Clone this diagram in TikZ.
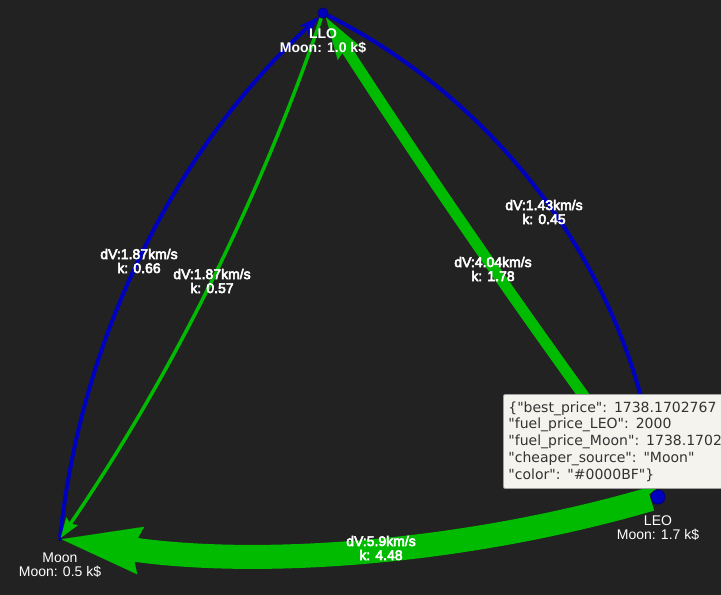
\documentclass[tikz,border=0pt]{standalone}
\usepackage{fontspec}
\setmainfont{Liberation Sans}
\newfontfamily\tipfont{DejaVu Sans}
\usetikzlibrary{arrows.meta}
\definecolor{bg}{HTML}{222222}
\definecolor{gr}{HTML}{00BB00}
\definecolor{bl}{HTML}{0000BF}
\definecolor{tipfill}{HTML}{F4F3EE}
\definecolor{tipline}{HTML}{A0A0A0}
\definecolor{tiptext}{HTML}{333333}
\pgfdeclarelayer{bglayer}
\pgfdeclarelayer{edges}
\pgfdeclarelayer{top}
\pgfsetlayers{bglayer,edges,main,top}
\tikzset{
  dot/.style={circle, fill=bl, draw=bl!70!black, line width=1pt, inner sep=0pt},
  nodelab/.style={text=white, align=center, font=\fontsize{14}{14}\selectfont},
  edgelab/.style={text=white, align=center, font=\fontsize{14}{14}\selectfont,
    execute at begin node={\special{pdf:literal direct 2 Tr 0.55 w 0.2 0.2 0.2 RG}},
    execute at end node={\special{pdf:literal direct 0 Tr}}},
  blueedge/.style={draw=bl, line width=4pt},
  greenedge/.style={draw=gr},
  tipbox/.style={fill=tipfill, draw=tipline, line width=0.8pt, rounded corners=2pt,
    text=tiptext, align=left, inner xsep=5pt, inner ysep=7pt, text width=225pt,
    font=\tipfont\fontsize{14}{16.8}\selectfont}
}
\begin{document}
\begin{tikzpicture}[x=1pt,y=-1pt]
\begin{pgfonlayer}{bglayer}
\fill[bg] (0,0) rectangle (721,595);
\end{pgfonlayer}
\useasboundingbox (0,0) rectangle (721,595);

% nodes
\node[dot, minimum size=10pt] (LLO) at (323,13) {};
\node[dot, minimum size=14pt] (LEO) at (658,497) {};
\node[dot, minimum size=3pt, line width=0pt] (Moon) at (60,539) {};

\node[nodelab, font=\bfseries\fontsize{14}{14}\selectfont] (LLOlab) at (323,41) {LLO\\Moon: 1.0 k\$};
\node[nodelab] (LEOlab) at (658,528) {LEO\\Moon: 1.7 k\$};
\node[nodelab] (Moonlab) at (60,565) {Moon\\Moon: 0.5 k\$};

% control points of the arcs
\coordinate (mlA) at (80.8,337.5);  \coordinate (mlB) at (174.1,150.4);
\coordinate (leA) at (509.6,106.9); \coordinate (leB) at (635.8,289.3);
\coordinate (gmA) at (259.6,199.4); \coordinate (gmB) at (171.1,376.4);
\coordinate (glA) at (541,339.5);   \coordinate (glB) at (429.1,178);
\coordinate (gbA) at (463.9,553.4); \coordinate (gbB) at (260.1,567.7);

% edges
\begin{pgfonlayer}{edges}
\draw[blueedge, -{Stealth[length=21pt,width=13pt,line width=0.01pt]}] (Moon) .. controls (mlA) and (mlB) .. (LLO);
\draw[blueedge, -{Stealth[length=21pt,width=13pt,line width=0.01pt]}] (LLO) .. controls (leA) and (leB) .. (LEO);
\draw[greenedge, line width=3.5pt, -{Stealth[length=20pt,width=14pt,inset=3pt,line width=0.01pt]}] (LLO) .. controls (gmA) and (gmB) .. (Moon);
\draw[greenedge, line width=11pt, -{Stealth[length=42pt,width=26pt,inset=6pt,line width=0.01pt]}] (LEO) .. controls (glA) and (glB) .. (LLO);
\draw[greenedge, line width=24pt, -{Stealth[length=80pt,width=48pt,inset=9pt,line width=0.01pt]}] (LEO) .. controls (gbA) and (gbB) .. (Moon);
\end{pgfonlayer}

% edge labels
\node[edgelab] (l1) at (139,261) {dV:1.87km/s\\k: 0.66};
\node[edgelab] (l2) at (212,281) {dV:1.87km/s\\k: 0.57};
\node[edgelab] (l3) at (544,212) {dV:1.43km/s\\k: 0.45};
\node[edgelab] (l4) at (493,269) {dV:4.04km/s\\k: 1.78};
\node[edgelab] (l5) at (381,548) {dV:5.9km/s\\k: 4.48};

% tooltip
\begin{pgfonlayer}{top}
\begin{scope}
\clip (0,0) rectangle (721,595);
\node[tipbox, anchor=north west] (tooltip) at (503,394)
  {\{"best\_price": 1738.1702767\\
   "fuel\_price\_LEO": 2000\\
   "fuel\_price\_Moon": 1738.1702\\
   "cheaper\_source": "Moon"\\
   "color": "\#0000BF"\}};
\end{scope}
\end{pgfonlayer}
\end{tikzpicture}
\end{document}
